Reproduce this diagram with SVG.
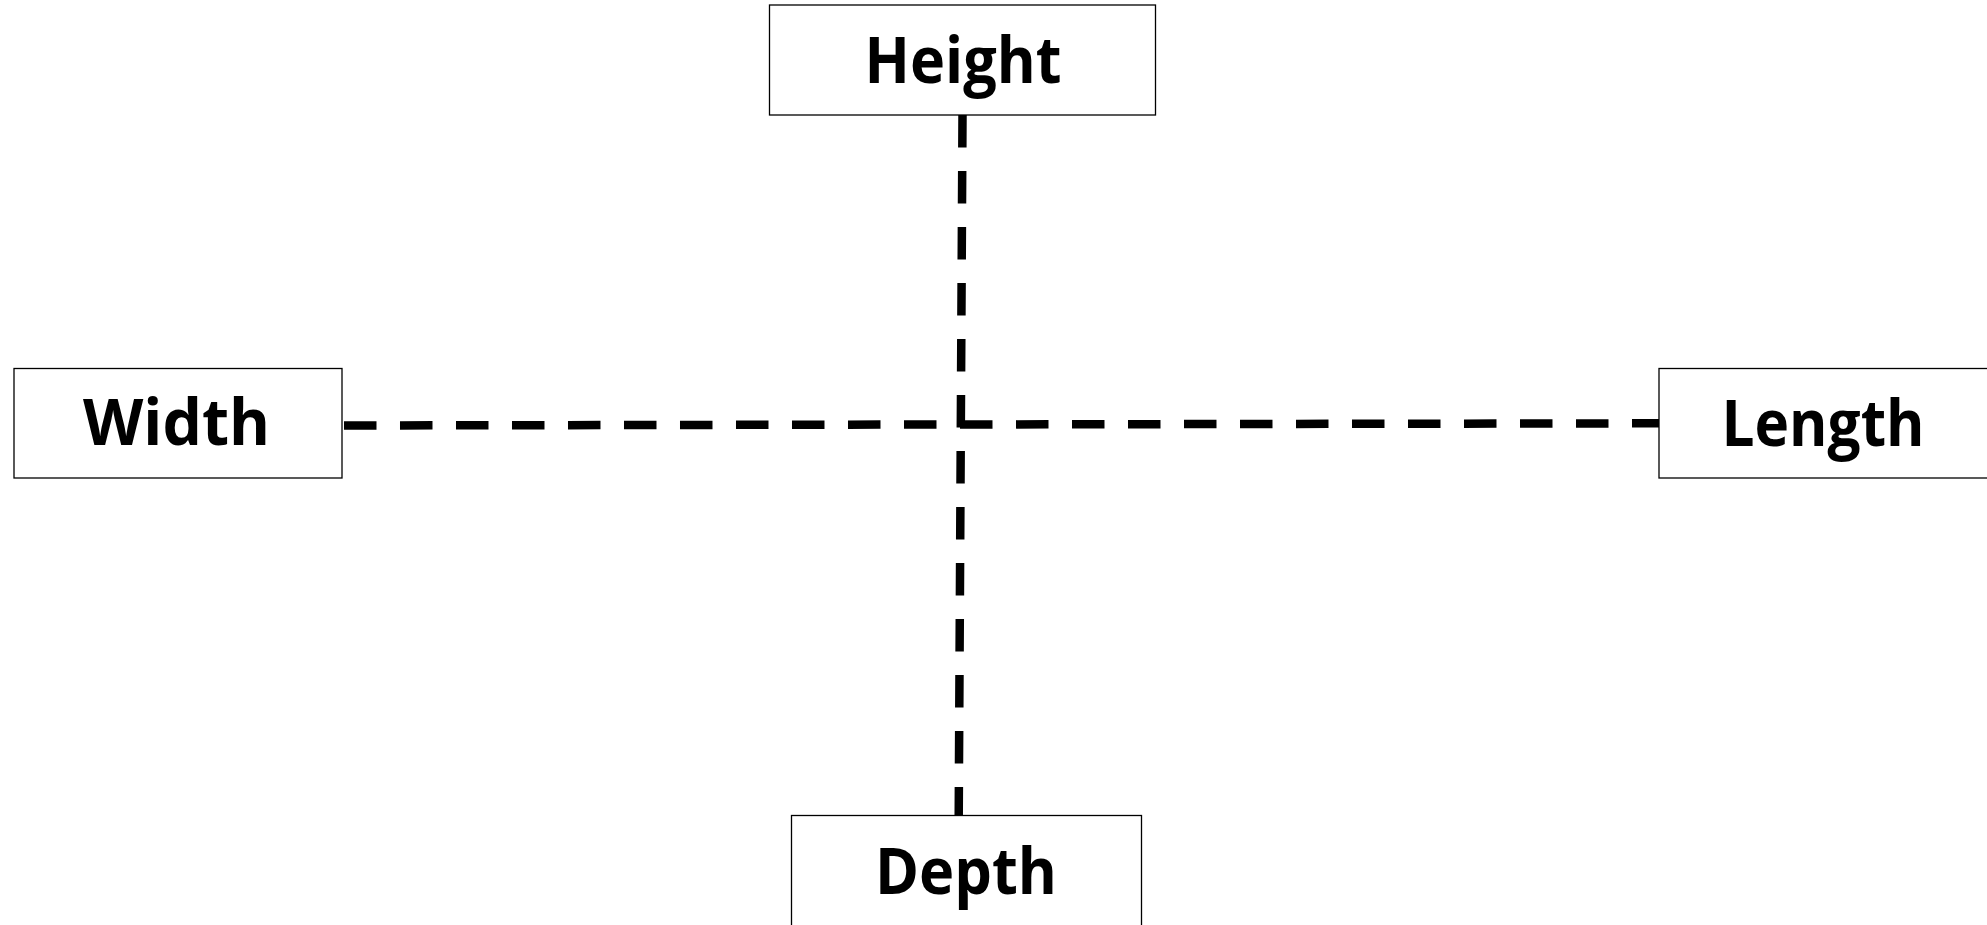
<svg xmlns="http://www.w3.org/2000/svg" width="1987" height="925" viewBox="0 0 1987 925">
<style>
.box{fill:#fff;stroke:#000;stroke-width:1.3}
.lbl{font-family:"Open Sans","Noto Sans","Liberation Sans",sans-serif;font-weight:700;font-size:65px;fill:#000;text-anchor:middle}
.dash{stroke:#000;stroke-width:8.5;stroke-dasharray:32.5 23.5;fill:none}
</style>
<rect width="1987" height="925" fill="#fff"/>
<g id="connectors">
<line class="dash" x1="962.5" y1="115" x2="958.7" y2="819"/>
<line class="dash" x1="344" y1="425.5" x2="1659" y2="423.3"/>
</g>
<g id="node-height">
<rect class="box" x="769.5" y="5" width="386" height="110"/>
<text class="lbl" x="963" y="83" textLength="197" lengthAdjust="spacingAndGlyphs">Height</text>
</g>
<g id="node-width">
<rect class="box" x="14" y="368.5" width="328" height="109.5"/>
<text class="lbl" x="176.5" y="445" textLength="187" lengthAdjust="spacingAndGlyphs">Width</text>
</g>
<g id="node-length">
<rect class="box" x="1659" y="368.5" width="340" height="109.5"/>
<text class="lbl" x="1823" y="446" textLength="203" lengthAdjust="spacingAndGlyphs">Length</text>
</g>
<g id="node-depth">
<rect class="box" x="791.5" y="815.5" width="350" height="120"/>
<text class="lbl" x="966" y="894" textLength="182" lengthAdjust="spacingAndGlyphs">Depth</text>
</g>
</svg>
